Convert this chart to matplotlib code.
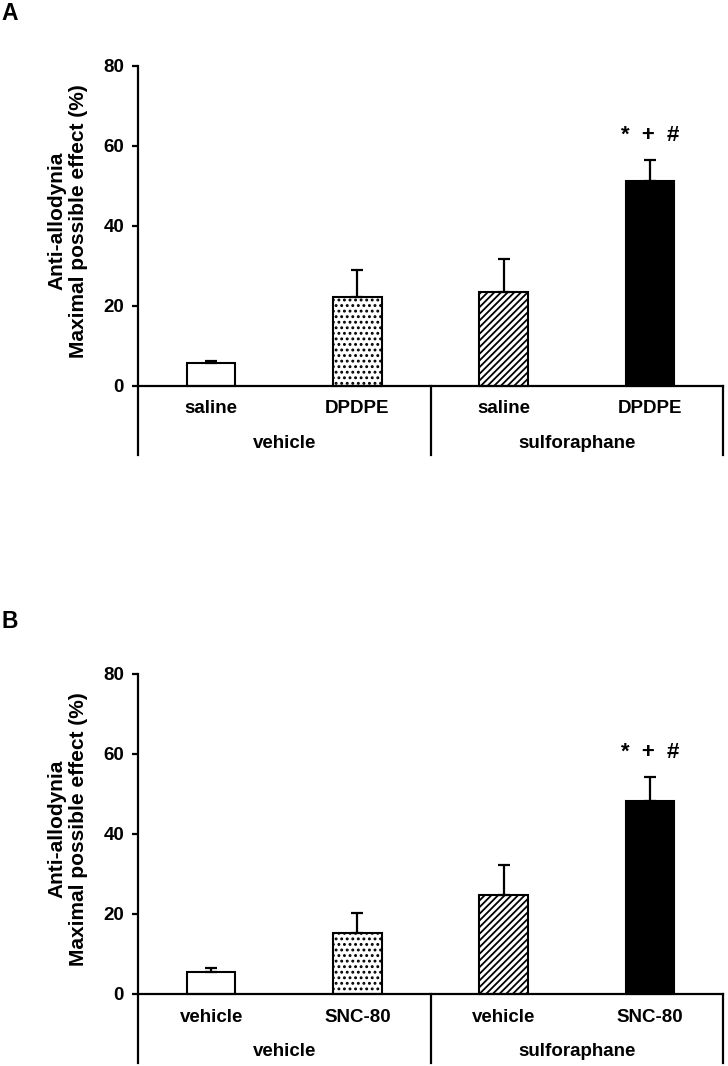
import matplotlib
matplotlib.use("Agg")
import matplotlib.pyplot as plt
import numpy as np

plt.rcParams['font.family'] = ['Liberation Sans', 'DejaVu Sans']
plt.rcParams['hatch.linewidth'] = 1.3

# ---- data ----
groups = ["vehicle", "sulforaphane"]
A_labels = ["saline", "DPDPE", "saline", "DPDPE"]
A_means = [5.7, 22.2, 23.6, 51.2]
A_err = [0.5, 6.8, 8.1, 5.2]
B_labels = ["vehicle", "SNC-80", "vehicle", "SNC-80"]
B_means = [5.4, 15.2, 24.7, 48.2]
B_err = [1.0, 5.1, 7.6, 6.0]
sig_text = "*  +  #"
yticks = [0, 20, 40, 60, 80]
ylabel = "Anti-allodynia\nMaximal possible effect (%)"

W, H = 728, 1066
fig = plt.figure(figsize=(W / 100, H / 100), dpi=100)

fills = ["white", "white", "white", "black"]
hatches = [None, "...", "/////", None]
LOW = -17.25


def panel(top_px, letter, letter_y, labels, means, err):
    bottom_px = top_px + 389
    ax = fig.add_axes([138 / W, 1 - bottom_px / H, 585 / W, 389 / H])
    x = np.arange(len(means))
    for i in range(len(means)):
        ax.bar(x[i], means[i], width=0.33, color=fills[i], edgecolor="black",
               linewidth=1.5, hatch=hatches[i], zorder=2)
    ax.errorbar(x, means, yerr=[np.zeros(len(err)), err], fmt="none",
                ecolor="black", elinewidth=1.6, capsize=4, capthick=1.6, zorder=3)
    ax.set_xlim(-0.5, 3.5)
    ax.set_ylim(LOW, 80)
    for s in ["top", "right", "bottom"]:
        ax.spines[s].set_visible(False)
    ax.spines["left"].set_linewidth(1.6)
    ax.spines["left"].set_bounds(LOW, 80)
    ax.set_xticks([])
    ax.set_yticks(yticks)
    ax.tick_params(axis="y", direction="out", length=4, width=1.6, pad=6,
                   labelsize=13.5)
    for t in ax.get_yticklabels():
        t.set_fontweight("bold")
    # baseline
    ax.plot([-0.5, 3.5], [0, 0], color="black", lw=1.6, clip_on=False, zorder=4)
    for xv in [1.5, 3.5]:
        ax.plot([xv, xv], [LOW, 0], color="black", lw=1.6, clip_on=False)
    for i, lab in enumerate(labels):
        ax.text(x[i], -5.75, lab, ha="center", va="center", fontsize=13.5,
                fontweight="bold")
    for j, g in enumerate(groups):
        ax.text(0.5 + 2 * j, -14.3, g, ha="center", va="center", fontsize=13.5,
                fontweight="bold")
    ax.text(x[3], means[3] + err[3] + 6.2, sig_text, ha="center", va="center",
            fontsize=16, fontweight="bold")
    fig.text(68 / W, 1 - (top_px + 155) / H, ylabel, rotation=90, ha="center",
             va="center", fontsize=15, fontweight="bold", multialignment="center")
    fig.text(10 / W, 1 - letter_y / H, letter, ha="center", va="center",
             fontsize=16.5, fontweight="bold")
    return ax


panel(66, "A", 13, A_labels, A_means, A_err)
panel(674, "B", 621, B_labels, B_means, B_err)

fig.savefig("out.png", dpi=100)
